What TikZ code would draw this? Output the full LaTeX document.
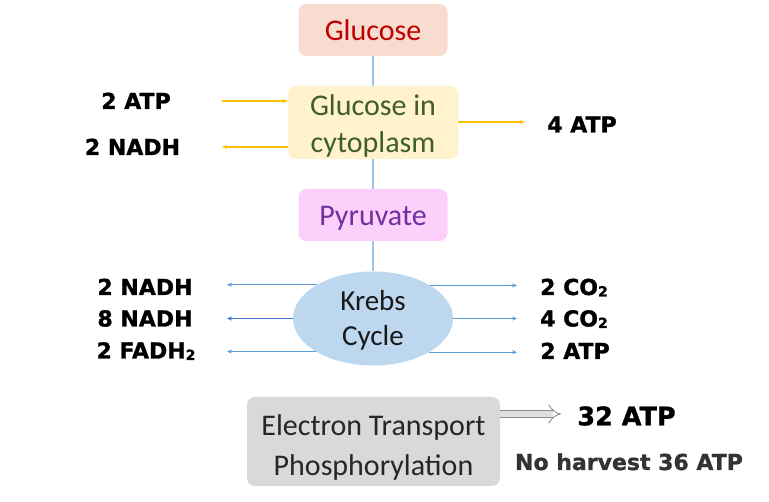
\documentclass[tikz,border=0pt]{standalone}
\usepackage{fontspec}
\setmainfont{Carlito}
\newfontfamily\labfont{DejaVu Sans}[BoldFeatures={FakeBold=1.2}]
\usetikzlibrary{shapes.geometric,arrows.meta}
\definecolor{glucfill}{HTML}{F8DCD0}
\definecolor{gluctext}{HTML}{C00000}
\definecolor{cytofill}{HTML}{FFF2CC}
\definecolor{cytotext}{HTML}{3F5E2A}
\definecolor{pyrfill}{HTML}{FDD0FB}
\definecolor{pyrtext}{HTML}{7030A0}
\definecolor{krebfill}{HTML}{BDD7EE}
\definecolor{etpfill}{HTML}{D9D9D9}
\definecolor{etptext}{HTML}{262626}
\definecolor{vlinecol}{HTML}{9DC3E6}
\definecolor{arrblue}{HTML}{5B9BD5}
\definecolor{arrdblue}{HTML}{4472C4}
\definecolor{arryel}{HTML}{FFC000}
\definecolor{nhtext}{HTML}{333333}
\newcommand\subtwo{\raisebox{-1.5pt}{\fontsize{14}{14}\selectfont 2}}
\begin{document}
\begin{tikzpicture}[x=1pt,y=-1pt,
  boxnode/.style={rounded corners=8pt, inner sep=0pt, align=center,
    font=\fontsize{30}{37}\selectfont},
  lbl/.style={inner sep=0pt, text height=16pt, text depth=0pt,
    font=\labfont\bfseries\fontsize{22}{22}\selectfont},
  yarr/.style={draw=arryel, line width=1.2pt, -{Stealth[length=5pt,width=4pt]}},
  barr/.style={draw=arrblue, line width=1.2pt, -{Stealth[length=5pt,width=4pt]}},
  vline/.style={draw=vlinecol, line width=1.5pt}]
\useasboundingbox (0,0) rectangle (769,502);
% boxes
\node[boxnode, fill=glucfill, text=gluctext, minimum width=149pt, minimum height=52pt,
  text height=22pt, text depth=0pt] (g) at (373,30) {Glucose};
\node[boxnode, fill=cytofill, text=cytotext, minimum width=170pt, minimum height=73pt]
  (c) at (373,122.5) {\rule{0pt}{28pt}Glucose in\\cytoplasm};
\node[boxnode, fill=pyrfill, text=pyrtext, minimum width=149pt, minimum height=52pt,
  text height=22pt, text depth=0pt] (p) at (373,215) {Pyruvate};
\node[ellipse, fill=krebfill, minimum width=160pt, minimum height=94pt, inner sep=0pt,
  align=center, text=black!90, font=\fontsize{29}{35}\selectfont] (k) at (373,318.5)
  {\rule{0pt}{24pt}Krebs\\Cycle};
\node[boxnode, fill=etpfill, text=etptext, minimum width=253pt, minimum height=89pt,
  font=\fontsize{30}{40}\selectfont] (e) at (373.5,441.5)
  {\rule{0pt}{33pt}Electron Transport\\Phosphorylation};
% vertical connectors
\draw[vline] (g.south) -- (c.north);
\draw[vline] (c.south) -- (p.north);
\draw[vline] (p.south) -- (k.north);
% glycolysis labels
\node[lbl] (atpin) at (136,101) {2 ATP};
\node[lbl] (nadhout) at (132.5,147) {2 NADH};
\node[lbl] (atpfour) at (582,124.5) {4 ATP};
\coordinate (ya) at (222,101);
\coordinate (yb) at (222,147);
\coordinate (yc) at (525,122);
\draw[yarr] (ya) -- (ya -| c.west);
\draw[yarr] (yb -| c.west) -- (yb);
\draw[yarr] (yc -| c.east) -- (yc);
% Krebs labels
\node[lbl] (kn1) at (145,287) {2 NADH};
\node[lbl] (kn2) at (145,318.5) {8 NADH};
\node[lbl] (kn3) at (146,350.5) {2 FADH\subtwo};
\node[lbl] (kc1) at (574,287) {2 CO\subtwo};
\node[lbl] (kc2) at (574,318.5) {4 CO\subtwo};
\node[lbl] (kc3) at (575,351) {2 ATP};
\coordinate (kl) at (227,318.5);
\coordinate (kr) at (517,318.5);
\draw[barr] (k.149.2) -- (k.149.2 -| kl);
\draw[barr, draw=arrdblue] (k.west) -- (kl);
\draw[barr] (k.210.8) -- (k.210.8 -| kl);
\draw[barr] (k.30.8) -- (k.30.8 -| kr);
\draw[barr] (k.east) -- (kr);
\draw[barr] (k.329.2) -- (k.329.2 -| kr);
% ETP
\node[lbl, text height=18.6pt, font=\labfont\bfseries\fontsize{25.5}{25.5}\selectfont]
  (atpbig) at (626.5,416) {32 ATP};
\node[lbl, text=nhtext] (nh) at (629,462) {No harvest 36 ATP};
\coordinate (ea) at (561,414);
\draw[draw=black!45, line width=0.9pt, double=black!12, double distance=6pt, -{Implies}]
  (e.east |- ea) -- (ea);
\end{tikzpicture}
\end{document}
